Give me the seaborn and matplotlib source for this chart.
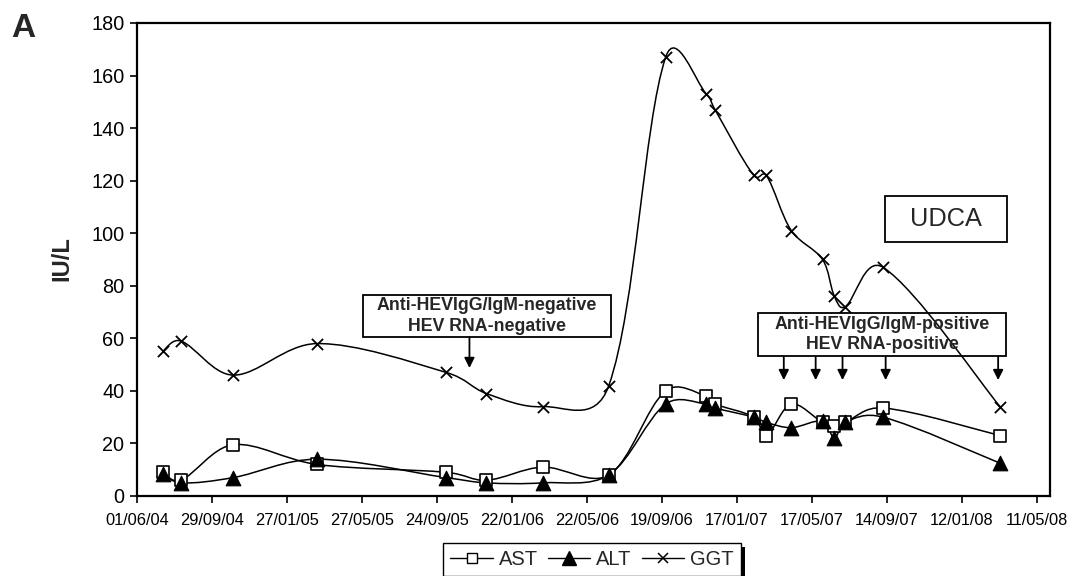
import numpy as np
import pandas as pd
import matplotlib
matplotlib.use("Agg")
import matplotlib.pyplot as plt
import matplotlib.dates as mdates
from matplotlib.path import Path
from matplotlib.patches import PathPatch, Rectangle
from matplotlib.lines import Line2D
import seaborn as sns

# ---- data ----
dates = ["2004-07-12", "2004-08-10", "2004-11-02", "2005-03-16", "2005-10-09",
         "2005-12-12", "2006-03-12", "2006-06-26", "2006-09-25", "2006-11-29",
         "2006-12-13", "2007-02-13", "2007-03-05", "2007-04-14", "2007-06-03",
         "2007-06-22", "2007-07-09", "2007-09-08", "2008-03-13"]
ast = [9, 6, 19.5, 12, 9, 6, 11, 8, 40, 38, 35, 30, 23, 35, 28, 26.5, 28, 33.5, 23]
alt = [8.5, 5, 7, 14, 7, 5, 5, 8, 35, 35, 33.5, 30, 28, 26, 28.5, 22, 28, 30, 12.5]
ggt = [55, 59, 46, 58, 47, 39, 34, 42, 167, 153, 147, 122, 122, 101, 90, 76, 72, 87, 34]

neg_arrow_dates = ["2005-11-15"]
pos_arrow_dates = ["2007-04-02", "2007-05-23", "2007-07-05", "2007-09-12", "2008-03-10"]
y_ticks = list(range(0, 181, 20))

sns.set_theme(style="white")
plt.rcParams["font.family"] = ["Liberation Sans", "DejaVu Sans"]

df = pd.DataFrame({"date": pd.to_datetime(dates), "AST": ast, "ALT": alt, "GGT": ggt})

fig = plt.figure(figsize=(10.71, 5.76), dpi=100)
ax = fig.add_axes([0.1279, 0.1389, 0.8525, 0.8212])

# axes first, so the smoothing can work in screen space like Excel does
ax.set_xlim(pd.Timestamp("2004-06-01"), pd.Timestamp("2008-06-01"))
ax.set_xticks(pd.date_range("2004-06-01", periods=13, freq="120D"))
ax.xaxis.set_major_formatter(mdates.DateFormatter("%d/%m/%y"))
ax.set_ylim(0, 180)
ax.set_yticks(y_ticks)


def smooth_path(xs, ys):
    # smoothed line: bezier with tangents weighted by segment length (screen px)
    pts = ax.transData.transform(np.column_stack([xs, ys]))
    n = len(pts)
    verts = [pts[0]]
    codes = [Path.MOVETO]
    seg = np.hypot(*np.diff(pts, axis=0).T)
    for i in range(n - 1):
        p0 = pts[max(i - 1, 0)]
        p1, p2 = pts[i], pts[i + 1]
        p3 = pts[min(i + 2, n - 1)]
        d01 = seg[i - 1] if i > 0 else seg[i]
        d12 = seg[i]
        d23 = seg[i + 1] if i + 1 < n - 1 else seg[i]
        # mix of plain catmull-rom and length weighted tangents
        f1 = 0.5 * (1 / 6) + 0.5 * d12 / (3 * (d01 + d12))
        f2 = 0.5 * (1 / 6) + 0.5 * d12 / (3 * (d12 + d23))
        c1 = p1 + (p2 - p0) * min(f1, 1 / 6 * 1.6)
        c2 = p2 - (p3 - p1) * min(f2, 1 / 6 * 1.6)
        verts += [c1, c2, p2]
        codes += [Path.CURVE4] * 3
    verts = ax.transData.inverted().transform(np.array(verts))
    return Path(verts, codes)


xnum = mdates.date2num(df["date"])
for col in ["AST", "ALT", "GGT"]:
    ax.add_patch(PathPatch(smooth_path(xnum, df[col].values), fill=False,
                           edgecolor="black", lw=1.1, zorder=2))

sns.scatterplot(x=df["date"], y=df["AST"], marker="s", s=75, facecolor="white",
                edgecolor="black", linewidth=1.2, ax=ax, zorder=3)
sns.scatterplot(x=df["date"], y=df["ALT"], marker="^", s=110, color="black",
                edgecolor="black", ax=ax, zorder=4)
sns.scatterplot(x=df["date"], y=df["GGT"], marker="x", s=65, color="black",
                linewidth=1.3, ax=ax, zorder=5)

ax.set_xlim(pd.Timestamp("2004-06-01"), pd.Timestamp("2008-06-01"))
ax.set_ylim(0, 180)
ax.set_xlabel("")
ax.set_ylabel("")
ax.tick_params(axis="both", direction="out", length=5, width=1.2, color="black",
               bottom=True, left=True, labelcolor="black")
ax.tick_params(axis="x", labelsize=11.8, pad=7)
ax.tick_params(axis="y", labelsize=14.3, pad=4)
for sp in ax.spines.values():
    sp.set_color("black")
    sp.set_linewidth(1.6)

fig.text(61.5 / 1071, 1 - 258.5 / 576, "IU/L", rotation=90, fontsize=17,
         fontweight="bold", ha="center", va="center")
fig.text(23 / 1071, 1 - 28.5 / 576, "A", fontsize=24, fontweight="bold",
         ha="center", va="center")

# annotation boxes
boxes = [
    (0.2475, 0.3362, 0.2722, 0.0887, "Anti-HEVIgG/IgM-negative\nHEV RNA-negative", "bold", 12.8),
    (0.6807, 0.2960, 0.2711, 0.0909, "Anti-HEVIgG/IgM-positive\nHEV RNA-positive", "bold", 12.8),
    (0.8191, 0.5370, 0.1343, 0.0972, "UDCA", "normal", 18.3),
]
for x0, y0, w, h, txt, wt, fs in boxes:
    ax.add_patch(Rectangle((x0, y0), w, h, transform=ax.transAxes, fill=False,
                           edgecolor="black", lw=1.3, zorder=6))
    ax.text(x0 + w / 2, y0 + h / 2, txt, transform=ax.transAxes, ha="center",
            va="center", multialignment="center", fontsize=fs, fontweight=wt,
            linespacing=1.3, zorder=7)

arrow_kw = dict(arrowstyle="-|>", color="black", lw=1.3, mutation_scale=15,
                shrinkA=0, shrinkB=0)
for d in neg_arrow_dates:
    ax.annotate("", xy=(pd.Timestamp(d), 48.7), xytext=(pd.Timestamp(d), 60.4),
                arrowprops=arrow_kw)
for d in pos_arrow_dates:
    ax.annotate("", xy=(pd.Timestamp(d), 44.1), xytext=(pd.Timestamp(d), 52.9),
                arrowprops=arrow_kw)

# legend
handles = [
    Line2D([], [], color="black", lw=1, marker="s", markersize=6.5,
           markerfacecolor="white", markeredgecolor="black"),
    Line2D([], [], color="black", lw=1, marker="^", markersize=10),
    Line2D([], [], color="black", lw=1, marker="x", markersize=7.5, markeredgewidth=1.1),
]
leg = fig.legend(handles, ["AST", "ALT", "GGT"], loc="upper center",
                 bbox_to_anchor=(592 / 1071, 1 - 543 / 576), ncol=3, frameon=True,
                 fancybox=False, edgecolor="black", framealpha=1, fontsize=14.5,
                 handlelength=2.1, handletextpad=0.3, columnspacing=0.5,
                 borderpad=0.35, borderaxespad=0)
leg.get_frame().set_linewidth(1.0)

fig.canvas.draw()
bb = leg.get_window_extent()
inv = fig.transFigure.inverted()
(x1, y1) = inv.transform((bb.x1, bb.y1 - 4))
(x2, y2) = inv.transform((bb.x1 + 4, bb.y0 - 10))
fig.add_artist(Rectangle((x1, y2), x2 - x1, y1 - y2, transform=fig.transFigure,
                         facecolor="black", edgecolor="none"))

fig.savefig("out.png", dpi=100)
